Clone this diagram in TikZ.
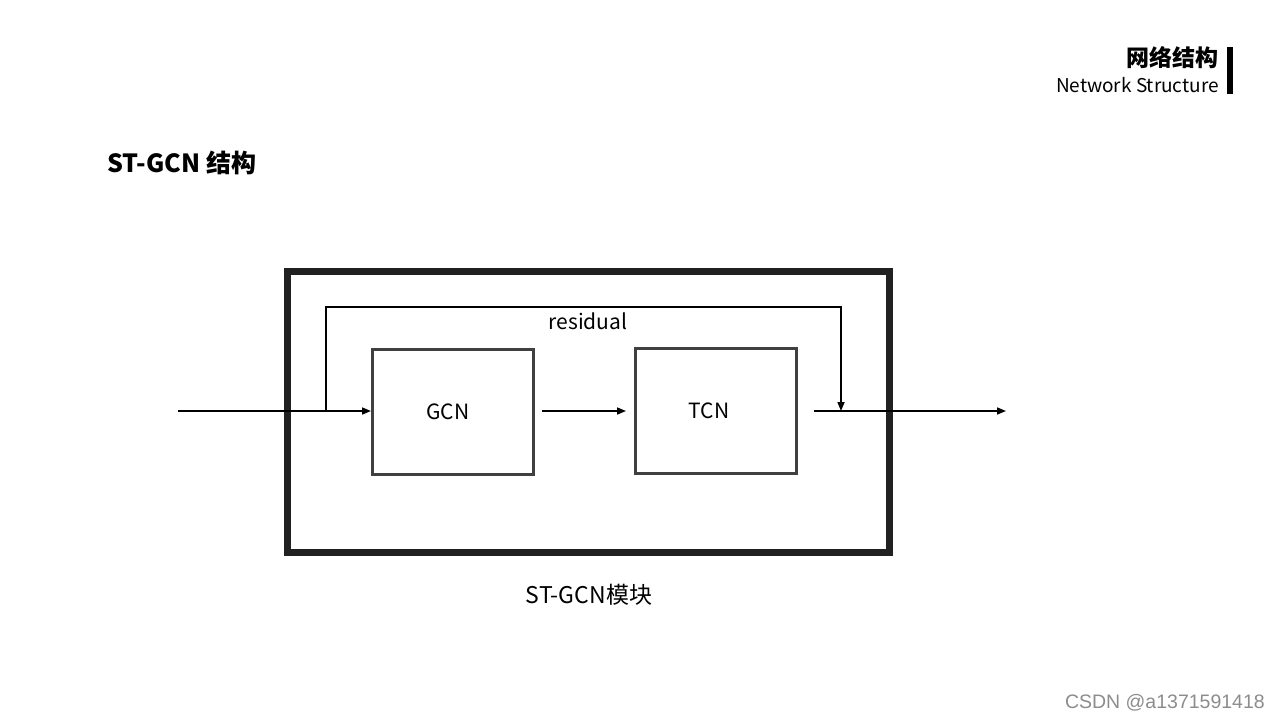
\documentclass[tikz,border=0pt]{standalone}
\usepackage{fontspec}
\setmainfont{Noto Sans CJK SC}
\newfontfamily\wmfont{Liberation Sans}
\usetikzlibrary{arrows.meta}
\begin{document}
\begin{tikzpicture}[x=1pt,y=-1pt,
  outerbox/.style={draw=black!87,line width=7pt},
  blockbox/.style={draw=black!75,line width=3pt,minimum width=161pt,minimum height=125pt,inner sep=0pt,font=\fontsize{21}{24}\selectfont},
  conn/.style={draw=black,line width=1.6pt,-{Triangle[length=9pt,width=7pt]}},
  lbl/.style={font=\fontsize{21}{24}\selectfont,inner sep=0pt}]
\useasboundingbox (0,0) rectangle (1280,720);
% header
\node[anchor=east,inner sep=0pt,font=\fontsize{23}{26}\selectfont\bfseries] (hcn) at (1219,58) {网络结构};
\node[anchor=east,inner sep=0pt,font=\fontsize{19}{22}\selectfont] (hen) at (1219,85) {Network Structure};
\fill[black] (1227,47) rectangle (1233,94);
% title
\node[anchor=west,inner sep=0pt,font=\fontsize{25}{29}\selectfont\bfseries] (title) at (107,163) {ST-GCN 结构};
% outer module box
\draw[outerbox] (287,271) rectangle (889,552);
% blocks
\node[blockbox] (gcn) at (452.5,411.5) {};
\node[lbl] (gcnt) at (448,412) {GCN};
\node[blockbox] (tcn) at (716,410.5) {};
\node[lbl] (tcnt) at (709,411) {TCN};
% coordinates
\coordinate (in) at (178,411);
\coordinate (split) at (326,411);
\coordinate (gcnin) at (371,411);
\coordinate (gout) at (542,411);
\coordinate (tin) at (626,411);
\coordinate (tout) at (814,411);
\coordinate (join) at (841,411);
\coordinate (out) at (1006,411);
% connectors
\draw[conn] (in) -- (gcnin);
\draw[conn] (gout) -- (tin);
\draw[conn] (tout) -- (out);
\draw[conn] (split) -- (326,307) -- (841,307) -- (join);
\node[lbl] (res) at (588,321) {residual};
% caption
\node[lbl,font=\fontsize{23}{26}\selectfont] (cap) at (589,595) {ST-GCN模块};
% watermark
\node[anchor=east,inner sep=0pt,text=black!45,font=\wmfont\fontsize{19.5}{22}\selectfont] (wm) at (1265,703) {CSDN @a1371591418};
\end{tikzpicture}
\end{document}
